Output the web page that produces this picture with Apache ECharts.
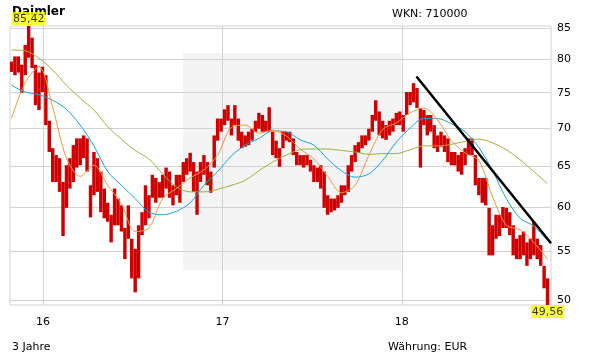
<!DOCTYPE html>
<html><head><meta charset="utf-8">
<script src="https://cdn.jsdelivr.net/npm/echarts@6/dist/echarts.min.js"></script>
<style>html,body{margin:0;padding:0;background:#fff}#c{width:611px;height:364px}</style>
</head><body><div id="c"></div>
<script>
// ---- data (weekly high/low ranges) ----
const firstWeek = '2015-10-29';
const lows = [78.1,77.6,78.0,75.0,77.6,80.3,78.7,73.2,72.5,75.1,70.4,66.8,63.0,63.0,61.8,56.7,59.9,62.2,63.0,64.8,
65.1,66.0,64.3,58.8,61.4,61.8,59.4,58.7,58.3,56.0,57.9,57.9,57.2,54.2,56.4,52.2,50.8,52.2,56.8,57.9,
58.7,61.1,60.5,61.1,61.1,62.2,61.1,60.2,61.4,60.5,63.0,63.9,64.3,61.8,59.1,63.0,63.9,62.6,61.7,64.8,
68.3,69.5,70.4,71.0,69.0,70.4,68.3,67.3,67.5,67.7,68.3,69.5,69.9,69.5,69.5,69.5,66.4,66.0,64.9,67.3,
68.3,68.1,66.4,65.1,65.1,64.8,65.1,64.3,63.0,63.0,62.2,59.9,59.1,59.4,59.6,59.9,60.5,61.4,61.8,64.3,
65.5,66.7,67.3,67.7,68.3,69.5,71.0,69.0,68.6,68.4,69.0,69.5,70.4,70.4,69.5,71.8,73.2,73.6,72.8,64.8,
70.4,69.0,69.5,67.3,66.8,67.5,66.8,65.5,65.1,65.1,64.3,63.9,65.1,66.4,66.4,62.6,61.4,60.5,60.2,54.6,
54.6,56.4,56.7,57.6,57.6,56.8,54.6,54.2,54.2,54.6,53.5,54.2,54.6,54.2,53.5,51.2,49.56];
const highs = [79.7,80.5,80.5,79.2,82.3,85.42,83.5,79.2,78.0,78.9,77.6,71.0,67.3,66.4,66.0,63.0,65.1,66.0,67.7,68.6,
68.6,69.0,68.6,62.6,66.8,66.0,64.3,62.2,60.5,59.1,62.2,61.0,60.2,57.6,60.2,56.4,55.3,57.9,59.4,62.6,
61.4,63.9,63.5,63.0,63.9,64.8,64.3,62.6,63.9,63.9,65.5,66.0,66.7,65.5,64.3,65.5,66.4,65.5,64.3,69.0,
71.3,71.3,72.6,73.2,71.3,73.2,71.3,69.5,69.0,69.5,69.9,71.0,72.1,71.8,71.0,72.9,69.5,68.3,67.3,69.5,
69.5,69.5,68.6,66.8,66.4,66.4,66.4,65.8,65.1,64.8,65.1,64.3,61.4,61.0,61.0,61.4,62.6,62.6,65.1,66.4,
67.7,68.1,69.0,69.0,69.9,71.8,73.9,72.3,71.0,70.4,71.0,71.3,72.1,72.3,71.8,75.1,75.1,76.4,75.7,72.8,
72.5,71.8,71.8,70.4,69.0,69.5,69.0,68.6,66.8,66.8,66.4,66.8,67.3,68.6,68.6,66.4,63.5,63.5,63.5,59.9,
57.9,59.1,59.1,60.0,59.9,59.4,57.9,56.4,56.8,57.2,56.0,56.4,58.3,56.4,55.7,53.5,52.2];
// moving averages, one value every 4 weeks
const maStep = 4;
const ma38 = [71.3,76.5,78.9,72.9,66.0,63.7,65.1,62.6,60.4,57.2,57.6,61.0,62.2,63.5,64.5,66.4,70.1,70.4,69.3,69.7,
68.9,67.2,65.9,63.7,61.7,62.6,66.4,69.8,70.7,72.1,72.8,71.1,68.3,66.7,65.7,61.2,57.9,57.4,56.0,54.2];
const ma100 = [76.1,75.1,74.7,73.9,72.6,70.4,67.6,64.3,62.6,61.0,59.4,59.1,59.5,60.5,62.6,64.3,66.3,67.7,68.6,69.6,
69.5,68.4,67.7,65.9,64.4,63.6,64.0,65.7,68.1,70.0,71.3,71.3,70.6,69.5,67.4,64.4,61.0,58.7,57.8,56.2];
const ma200 = [81.5,81.4,80.2,78.4,76.1,74.2,72.5,70.2,68.5,67.0,65.9,64.0,62.4,61.8,61.8,62.1,62.6,63.2,64.4,65.5,
66.4,67.1,67.2,67.2,67.0,66.8,66.5,66.6,66.6,67.1,67.6,67.6,67.8,68.2,68.5,68.0,67.1,65.8,64.3,62.8];
const trendDates = ['2018-01-31', '2018-11-01'];
const trendValues = [77.4, 55.9];
const yTicks = [50, 55, 60, 65, 70, 75, 80, 85];
const xTickDates = ['2016-01-01', '2017-01-01', '2018-01-01'];
const xTickLabels = ['16', '17', '18'];
const axisStart = '2015-10-26', axisEnd = '2018-11-01';

// ---- helpers ----
const DAY = 86400000;
function t(s, add) { const p = s.split('-').map(Number); return new Date(p[0], p[1] - 1, p[2] + (add || 0)).getTime(); }
const weekTimes = lows.map((_, i) => t(firstWeek, 7 * i));
const bars = lows.map((lo, i) => [weekTimes[i], lo, highs[i]]);
const maLine = arr => arr.map((v, k) => [weekTimes[k * maStep], v]);
let iMax = 0, iMin = 0;
highs.forEach((v, i) => { if (v > highs[iMax]) iMax = i; });
lows.forEach((v, i) => { if (v < lows[iMin]) iMin = i; });
const fmt = v => v.toFixed(2).replace('.', ',');
const xTickTimes = xTickDates.map(s => t(s));
const FONT = 'DejaVu Sans';
const GRID = '#d2d2d2';

const chart = echarts.init(document.getElementById('c'), null, { renderer: 'canvas' });
chart.setOption({
  animation: false,
  backgroundColor: '#fff',
  textStyle: { fontFamily: FONT },
  graphic: [
    { type: 'rect', z: -10, shape: { x: 183, y: 53, width: 218, height: 217 }, style: { fill: '#f4f4f4' } },
    { type: 'text', left: 12, top: 6, z: 0, style: { text: 'Daimler', font: 'bold 12px "DejaVu Sans"', fill: '#000' } },
    { type: 'text', left: 392, top: 9, style: { text: 'WKN: 710000', font: '11px "DejaVu Sans"', fill: '#000' } },
    { type: 'text', left: 12, top: 342, style: { text: '3 Jahre', font: '11px "DejaVu Sans"', fill: '#000' } },
    { type: 'text', left: 388, top: 342, style: { text: 'Währung: EUR', font: '11px "DejaVu Sans"', fill: '#000' } }
  ],
  grid: { left: 10, right: 60, top: 26, bottom: 59, show: true, borderColor: GRID, borderWidth: 1, containLabel: false },
  xAxis: {
    type: 'value', min: t(axisStart), max: t(axisEnd),
    axisLine: { show: false }, axisTick: { show: false, customValues: xTickTimes },
    axisLabel: {
      customValues: xTickTimes, color: '#000', fontSize: 11, fontFamily: FONT, margin: 12,
      formatter: v => { const k = xTickTimes.indexOf(v); return k >= 0 ? xTickLabels[k] : ''; }
    },
    splitLine: { show: true, lineStyle: { color: GRID, width: 1 } }
  },
  yAxis: {
    type: 'log', logBase: 10, position: 'right', min: lows[iMin], max: highs[iMax],
    axisLine: { show: false }, axisTick: { show: false, customValues: yTicks },
    axisLabel: { customValues: yTicks, color: '#000', fontSize: 11, fontFamily: FONT, margin: 6, formatter: v => String(Math.round(v)) },
    splitLine: { show: true, lineStyle: { color: GRID, width: 1 } }
  },
  series: [
    {
      type: 'custom', name: 'Kurs', data: bars, clip: true, encode: { x: 0, y: [1, 2] },
      renderItem: function (params, api) {
        const x = api.value(0), lo = api.value(1), hi = api.value(2);
        const a = api.coord([x - 3.5 * DAY, hi]);
        const b = api.coord([x + 3.5 * DAY, lo]);
        return { type: 'rect', shape: { x: a[0], y: a[1], width: b[0] - a[0], height: Math.max(1, b[1] - a[1]) }, style: { fill: '#d10000' } };
      }
    },
    { type: 'line', name: 'GD200', data: maLine(ma200), symbol: 'none', smooth: 0.3, lineStyle: { color: '#95b53c', width: 1 } },
    { type: 'line', name: 'GD100', data: maLine(ma100), symbol: 'none', smooth: 0.3, lineStyle: { color: '#12a5e2', width: 1 } },
    { type: 'line', name: 'GD38', data: maLine(ma38), symbol: 'none', smooth: 0.3, lineStyle: { color: '#f79536', width: 1 } },
    { type: 'line', name: 'Trend', data: trendDates.map((d, i) => [t(d), trendValues[i]]), symbol: 'none', lineStyle: { color: '#000', width: 2.5 } },
    {
      type: 'scatter', z: 10, symbolSize: 0, silent: true,
      data: [
        { value: [weekTimes[iMax], highs[iMax]], label: { position: 'top', distance: 1 } },
        { value: [weekTimes[iMin], lows[iMin]], label: { position: 'bottom', distance: 0 } }
      ],
      label: {
        show: true, formatter: p => fmt(p.value[1]), color: '#000', fontSize: 11, fontFamily: FONT,
        backgroundColor: '#ffff00', padding: [1, 1, 0, 1], lineHeight: 12
      }
    }
  ]
});
</script></body></html>
